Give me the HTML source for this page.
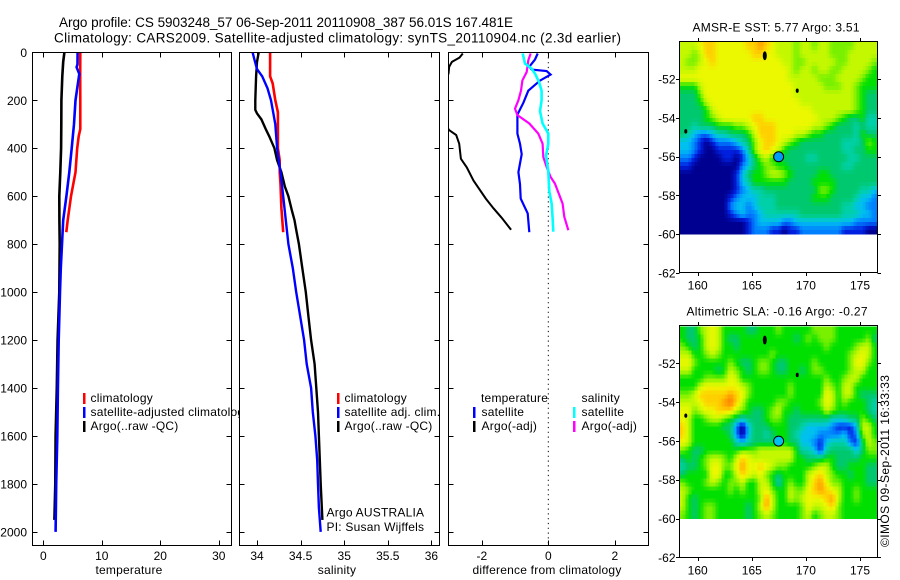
<!DOCTYPE html>
<html>
<head>
<meta charset="utf-8">
<title>Argo profile</title>
<style>
html,body{margin:0;padding:0;background:#fff;}
svg{display:block;}
text{font-family:"Liberation Sans",sans-serif;font-size:12px;fill:#000;}
.wide{letter-spacing:0.22px;}
.frame{fill:none;stroke:#000;stroke-width:1;shape-rendering:crispEdges;}
.panel-bg{fill:#fff;}
</style>
</head>
<body>
<svg id="chart" xmlns="http://www.w3.org/2000/svg" width="900" height="580" viewBox="0 0 900 580">
  <defs>
    <clipPath id="clip-p1"><rect x="32.5" y="52.5" width="199" height="493"/></clipPath>
    <clipPath id="clip-p2"><rect x="239.5" y="52.5" width="200" height="493"/></clipPath>
    <clipPath id="clip-p3"><rect x="448.5" y="52.5" width="200" height="493"/></clipPath>
  </defs>
  <text x="59" y="27" textLength="454" style="font-size:13.5px">Argo profile: CS 5903248_57 06-Sep-2011 20110908_387 56.01S 167.481E</text>
  <text x="54" y="42.5" textLength="567" style="font-size:13.5px">Climatology: CARS2009. Satellite-adjusted climatology: synTS_20110904.nc (2.3d earlier)</text>

  <g id="panel1">
    <rect class="panel-bg" x="32.5" y="52.5" width="199" height="493"/>
    <g id="p1-lines" clip-path="url(#clip-p1)"></g>
    <rect class="frame" x="32.5" y="52.5" width="199" height="493"/>
    <g id="p1-axes"></g>
    <text class="wide" x="129" y="574" text-anchor="middle">temperature</text>
    <g>
      <rect x="83" y="393" width="2.5" height="11" fill="#ff0000"/>
      <rect x="83" y="407" width="2.5" height="11" fill="#0000ff"/>
      <rect x="83" y="421" width="2.5" height="11" fill="#000"/>
      <text class="wide" x="90.5" y="402">climatology</text>
      <text class="wide" x="90.5" y="416">satellite-adjusted climatology</text>
      <text class="wide" x="90.5" y="430">Argo(..raw -QC)</text>
    </g>
  </g>

  <g id="panel2">
    <rect class="panel-bg" x="239.5" y="52.5" width="200" height="493"/>
    <g id="p2-lines" clip-path="url(#clip-p2)"></g>
    <rect class="frame" x="239.5" y="52.5" width="200" height="493"/>
    <g id="p2-axes"></g>
    <text class="wide" x="337" y="574" text-anchor="middle">salinity</text>
    <g>
      <rect x="337" y="393" width="2.5" height="11" fill="#ff0000"/>
      <rect x="337" y="407" width="2.5" height="11" fill="#0000ff"/>
      <rect x="337" y="421" width="2.5" height="11" fill="#000"/>
      <text class="wide" x="344.5" y="402">climatology</text>
      <text class="wide" x="344.5" y="416">satellite adj. clim.</text>
      <text class="wide" x="344.5" y="430">Argo(..raw -QC)</text>
    </g>
    <text class="wide" x="326.5" y="516.5">Argo AUSTRALIA</text>
    <text class="wide" x="326.5" y="531">PI: Susan Wijffels</text>
  </g>

  <g id="panel3">
    <rect class="panel-bg" x="448.5" y="52.5" width="200" height="493"/>
    <g id="p3-lines" clip-path="url(#clip-p3)"></g>
    <rect class="frame" x="448.5" y="52.5" width="200" height="493"/>
    <g id="p3-axes"></g>
    <text class="wide" x="547" y="574" text-anchor="middle">difference from climatology</text>
    <g>
      <text class="wide" x="481" y="402">temperature</text>
      <text class="wide" x="581.5" y="402">salinity</text>
      <rect x="473" y="407" width="2.5" height="11" fill="#0000ff"/>
      <rect x="473" y="421" width="2.5" height="11" fill="#000"/>
      <rect x="573" y="407" width="2.5" height="11" fill="#00ffff"/>
      <rect x="573" y="421" width="2.5" height="11" fill="#ff00ff"/>
      <text class="wide" x="481.5" y="416">satellite</text>
      <text class="wide" x="481.5" y="430">Argo(-adj)</text>
      <text class="wide" x="581.5" y="416">satellite</text>
      <text class="wide" x="581.5" y="430">Argo(-adj)</text>
    </g>
  </g>

  <g id="map1">
    <text x="692.5" y="31.5" textLength="167">AMSR-E SST: 5.77 Argo: 3.51</text>
  </g>
  <g id="map2">
    <text x="686.5" y="315.5" textLength="181">Altimetric SLA: -0.16 Argo: -0.27</text>
  </g>
  <text transform="translate(889,547) rotate(-90)" textLength="172">©IMOS 09-Sep-2011 16:33:33</text>
</svg>

<script>
// ---------- profile axis ticks ----------
const depthTicks = [0,200,400,600,800,1000,1200,1400,1600,1800,2000];
const tempTicks = [0,10,20,30];
const salTicks = [34,34.5,35,35.5,36];
const salTickLabels = ["34","34.5","35","35.5","36"];
const diffTicks = [-2,0,2];
const latTicks = [52,54,56,58,60,62];
const lonTicks = [160,165,170,175];

// ---------- temperature profiles ----------
const tempArgoDepth = [0,40,100,200,300,400,500,600,700,800,1000,1200,1400,1600,1800,1950];
const tempArgoValue = [3.6,3.4,3.25,3.1,3.08,3.05,2.9,2.74,2.75,2.8,2.74,2.45,2.3,2.1,2.05,1.9];
const tempSatDepth = [0,50,62,90,200,300,400,500,600,700,800,900,1000,1200,1400,1600,1800,2000];
const tempSatValue = [5.87,5.85,5.7,6.15,5.5,5.25,4.85,4.45,3.95,3.4,3.2,3.0,2.85,2.63,2.5,2.4,2.2,2.1];
const tempClimDepth = [0,100,200,270,320,350,400,500,600,700,750];
const tempClimValue = [6.33,6.3,6.33,6.33,6.33,6.05,5.8,5.5,4.73,4.17,3.93];

// ---------- salinity profiles ----------
const salArgoDepth = [0,40,100,200,240,255,280,320,350,400,450,500,560,600,660,700,740,800,900,1000,1100,1200,1300,1400,1500,1600,1700,1800,1950];
const salArgoValue = [34.02,34.0,33.99,33.98,33.98,34.0,34.05,34.1,34.14,34.2,34.23,34.28,34.32,34.36,34.4,34.43,34.45,34.48,34.52,34.56,34.59,34.62,34.66,34.68,34.7,34.71,34.72,34.73,34.75];
const salSatDepth = [0,30,70,100,150,200,300,400,500,600,700,800,900,1000,1200,1300,1400,1500,1600,1700,1800,1900,2000];
const salSatValue = [33.95,33.97,34.0,34.06,34.12,34.16,34.21,34.23,34.27,34.3,34.33,34.36,34.41,34.45,34.54,34.57,34.62,34.64,34.67,34.69,34.7,34.71,34.73];
const salClimDepth = [0,100,130,200,250,350,400,450,500,550,650,700,750];
const salClimValue = [34.15,34.15,34.18,34.21,34.24,34.24,34.24,34.26,34.26,34.27,34.28,34.29,34.3];

// ---------- difference profiles ----------
const diffTempSatDepth = [5,30,60,72,78,93,118,160,210,260,339,381,425,500,550,610,672,750];
const diffTempSatValue = [-0.32,-0.4,-0.57,-0.5,-0.05,0.07,-0.25,-0.6,-0.75,-0.93,-0.93,-0.85,-0.8,-0.9,-0.85,-0.83,-0.62,-0.57];
const diffTempArgoDepth = [5,22,40,60,89,117,170,280,325,345,381,444,480,535,610,650,690,740];
const diffTempArgoValue = [-2.57,-2.67,-2.9,-2.98,-3.0,-3.1,-3.3,-3.2,-2.98,-2.77,-2.68,-2.63,-2.45,-2.25,-1.88,-1.65,-1.4,-1.12];
const diffSalSatDepth = [5,47,68,89,124,160,200,245,297,339,381,430,495,580,630,690,748];
const diffSalSatValue = [-0.77,-0.7,-0.5,-0.4,-0.28,-0.2,-0.2,-0.25,-0.17,0,0,-0.07,0,0.03,0.1,0.13,0.15];
const diffSalArgoDepth = [5,33,82,117,160,200,235,262,297,339,381,437,478,520,547,631,686,742];
const diffSalArgoValue = [-0.53,-0.6,-0.65,-0.78,-0.82,-0.9,-1.0,-0.93,-0.57,-0.3,-0.17,-0.15,-0.05,0.07,0.2,0.43,0.48,0.6];

// ---------- SST heatmap (colour level per cell, north to south, west to east) ----------
const sstGrid = [
[8,8,8,9,10,10,9,9,9,9,9,10,10,11,10,9,8,8,8,7,8,8,7,8,8,7,7,7,7,8,8,8,8],
[8,8,7,8,10,10,9,9,9,9,9,9,10,10,9,9,8,8,8,7,8,8,8,8,8,7,7,7,8,8,8,8,8],
[8,7,7,8,9,10,9,9,9,9,9,9,9,9,9,9,9,8,8,7,7,8,8,8,8,8,7,7,8,8,8,8,7],
[8,8,8,9,9,9,9,9,9,9,9,9,9,9,9,9,9,9,8,7,8,8,7,8,8,7,7,8,8,8,8,7,6],
[9,9,9,9,9,9,9,9,9,9,9,9,9,9,9,9,9,9,8,8,8,8,8,7,7,7,8,8,8,8,7,6,6],
[6,6,6,8,9,9,9,9,9,9,9,9,9,9,9,9,9,9,9,8,8,8,8,8,7,7,7,8,8,7,6,6,6],
[5,5,5,7,9,9,9,9,9,9,9,9,9,9,9,9,9,9,9,8,8,8,8,8,8,8,8,8,8,7,6,5,5],
[5,5,5,6,8,9,9,9,9,9,9,9,9,9,9,9,9,9,9,9,8,8,8,8,8,8,8,8,8,7,6,5,5],
[5,5,5,5,6,8,9,9,9,9,9,9,9,9,9,9,9,9,9,9,9,9,8,8,8,8,8,8,8,7,6,5,5],
[5,5,5,5,6,7,8,9,9,9,9,9,10,10,9,9,9,9,9,9,9,9,9,8,8,8,7,6,5,5,6,4,4],
[5,5,4,5,5,5,6,6,6,7,7,8,9,10,10,10,9,9,9,9,9,9,8,8,7,6,5,5,5,4,5,4,4],
[5,4,3,2,2,3,4,4,5,5,5,6,8,10,10,10,9,9,9,8,8,7,6,6,5,5,5,5,5,4,6,5,5],
[3,3,2,1,0,1,2,2,2,3,4,5,7,9,10,10,9,8,7,6,5,5,5,5,5,5,5,4,4,4,5,7,6],
[3,3,2,1,0,0,1,1,1,1,2,4,7,9,10,9,8,6,5,5,5,5,5,5,5,5,5,4,4,5,5,6,6],
[2,2,1,0,0,0,0,1,1,0,1,3,5,7,8,6,6,5,5,5,5,4,4,5,5,5,5,5,4,4,5,5,5],
[1,1,0,0,0,0,0,0,0,0,2,3,5,6,7,7,6,6,5,5,5,5,5,5,5,5,5,4,4,5,5,5,5],
[0,0,0,0,0,0,0,0,0,1,3,5,6,6,7,8,8,7,6,5,5,5,5,6,6,5,5,5,5,5,5,5,5],
[0,0,0,0,0,0,0,0,0,1,3,4,6,6,6,6,6,6,5,5,5,5,6,6,6,6,5,5,5,5,5,5,5],
[0,0,0,0,0,0,0,0,0,1,2,3,4,4,5,5,5,5,5,5,5,5,5,7,7,6,5,5,5,5,4,4,3],
[0,0,0,0,0,0,0,0,1,2,3,3,3,4,4,4,5,5,5,5,5,5,6,6,6,5,5,5,5,4,3,3,2],
[0,0,0,0,0,0,0,0,2,3,3,2,3,4,4,4,5,5,5,5,5,5,5,5,5,5,5,4,4,3,3,2,2],
[0,0,0,0,0,0,0,0,1,2,3,2,2,3,4,4,4,4,4,4,5,5,5,5,5,5,5,4,4,4,3,3,2],
[0,0,0,0,0,0,0,0,0,0,0,1,2,3,3,3,3,2,2,3,3,3,3,3,3,3,3,3,3,2,2,2,2],
[0,0,0,0,0,0,0,0,0,0,0,1,2,2,2,1,1,0,1,1,2,2,2,2,2,2,2,1,1,1,1,0,0]
];

// ---------- SLA heatmap ----------
const slaGrid = [
[6,5,5,7,8,9,8,6,6,6,6,5,5,6,6,6,7,6,6,6,6,6,7,7,7,7,6,6,6,6,6,6,6],
[6,5,5,6,8,9,8,6,5,5,6,6,6,6,6,6,6,6,6,5,6,7,6,7,7,7,6,6,6,6,6,7,5],
[7,6,5,6,8,9,8,6,6,5,6,6,6,6,6,6,6,6,6,6,6,6,6,6,7,6,6,6,6,7,8,8,6],
[8,8,6,6,7,8,7,6,6,6,6,6,6,6,6,7,6,6,6,6,6,6,6,6,6,6,6,6,7,8,9,8,6],
[9,9,7,6,6,6,6,6,7,6,5,5,6,7,7,6,5,5,6,6,6,6,7,6,6,6,6,6,7,9,9,7,6],
[8,8,6,6,6,6,5,6,8,7,6,5,6,7,7,6,5,5,6,6,5,6,7,7,6,6,6,6,7,8,8,6,6],
[6,6,6,6,7,7,7,7,9,8,6,6,6,6,6,6,6,6,6,6,6,6,6,6,7,6,6,7,8,8,6,6,6],
[6,6,6,8,9,9,9,9,9,9,8,7,6,6,6,6,6,6,7,6,6,6,6,6,8,7,6,8,8,6,6,6,6],
[7,7,8,10,10,10,10,10,11,10,9,7,6,6,6,6,6,6,7,6,6,6,6,6,9,8,6,8,8,6,5,5,5],
[8,8,8,9,10,10,10,11,12,10,8,6,6,6,6,6,7,7,6,6,6,6,6,7,9,8,6,7,6,6,6,5,4],
[9,9,7,8,9,9,10,10,10,8,7,6,5,5,6,7,8,6,6,5,6,6,6,6,8,7,6,6,6,6,6,5,4],
[9,8,6,6,7,8,8,7,6,5,4,5,5,5,6,7,7,6,5,5,5,5,5,5,5,4,4,4,5,5,7,6,5],
[10,8,6,6,6,6,6,5,5,2,0,3,5,5,5,6,6,6,5,5,4,3,3,3,3,2,1,1,1,3,8,8,6],
[10,8,6,6,6,6,6,6,5,2,0,3,5,5,4,5,6,6,5,4,3,3,3,2,2,2,2,3,1,2,7,8,6],
[9,8,6,6,6,6,6,6,6,4,3,4,5,5,5,5,6,6,5,5,3,3,2,1,3,4,4,4,2,1,5,8,7],
[7,6,5,5,6,6,6,6,6,6,7,7,7,8,8,8,8,8,8,6,4,4,3,1,4,5,5,5,5,3,5,7,7],
[5,6,5,6,7,8,8,7,6,8,10,9,8,8,8,8,8,8,8,6,6,5,5,5,6,6,5,5,5,5,6,6,6],
[4,5,5,6,7,9,9,7,7,9,11,9,9,10,9,8,7,7,6,6,6,6,7,8,8,6,5,5,6,6,6,5,5],
[5,6,6,6,6,9,9,6,6,8,10,9,8,9,7,6,5,6,6,6,6,8,9,10,8,7,6,6,5,6,6,5,5],
[7,6,6,6,7,8,7,6,7,7,8,6,6,8,8,6,4,6,7,6,6,8,10,11,9,7,7,6,6,6,6,5,5],
[8,7,6,6,6,6,6,6,7,6,7,6,6,8,9,7,6,6,8,7,7,9,10,11,10,9,8,6,6,7,6,6,6],
[8,6,5,6,6,6,6,6,6,6,6,6,6,7,11,8,6,6,8,7,8,9,9,9,10,11,8,6,6,7,6,6,6],
[8,6,5,6,7,7,6,6,6,6,6,5,6,8,11,8,6,6,6,6,7,9,8,8,9,10,7,6,6,6,6,6,6],
[7,6,5,6,7,7,6,6,6,6,6,5,6,7,8,7,6,6,6,6,7,8,6,7,8,8,7,6,6,6,6,6,6]
];

const floatLon = 167.48;
const floatLat = 56.01;
const sstFloatLevel = 2.4;
const slaFloatLevel = 3;
const islandLons = [166.2, 169.2, 158.9];
const islandLats = [50.8, 52.6, 54.7];

// ---------- axis functions ----------
const NS = "http://www.w3.org/2000/svg";
function yDepth(d){ return 52.3 + d * 0.2398; }
function xTemp(v){ return 43.3 + v * 5.85; }
function xSal(v){ return 257 + (v - 34) * 87.2; }
function xDiff(v){ return 548.3 + v * 33.25; }
function xLon(v){ return 697.7 + (v - 160) * 10.82; }
function yLat(v, y52){ return y52 + (v - 52) * 19.4; }

function mk(tag, parent, attrs){
  const el = document.createElementNS(NS, tag);
  for (const k in attrs) el.setAttribute(k, attrs[k]);
  parent.appendChild(el);
  return el;
}

function drawProfile(parentId, depths, values, xFn, color, width, name){
  const pts = depths.map(function(d, i){ return xFn(values[i]).toFixed(1) + "," + yDepth(d).toFixed(1); }).join(" ");
  const el = mk("polyline", document.getElementById(parentId), {points: pts, fill: "none", stroke: color, "stroke-width": width, "stroke-linejoin": "miter"});
  
  
}

function tick(parent, x1, y1, x2, y2){
  const el = mk("line", parent, {x1: x1, y1: y1, x2: x2, y2: y2, stroke: "#000", "stroke-width": 1, "shape-rendering": "crispEdges"});
  
  
}

function label(parent, x, y, str, anchor){
  const el = mk("text", parent, {x: x, y: y, "text-anchor": anchor});
  el.textContent = str;
  
  
}

function drawPanelAxes(id, left, right, xFn, xValues, xLabels, showDepth){
  const g = document.getElementById(id);
  depthTicks.forEach(function(d){
    const y = Math.round(yDepth(d)) + 0.5;
    tick(g, left, y, left + 5, y);
    tick(g, right - 5, y, right, y);
    if (showDepth) label(g, 27, yDepth(d) + 4.5, String(d), "end");
  });
  xValues.forEach(function(v, i){
    const x = Math.round(xFn(v)) + 0.5;
    tick(g, x, 52.5, x, 57.5);
    tick(g, x, 540.5, x, 545.5);
    label(g, xFn(v), 560, xLabels[i], "middle");
  });
}

// ---------- draw profile panels ----------
drawPanelAxes("p1-axes", 32.5, 231.5, xTemp, tempTicks, tempTicks.map(String), true);
drawPanelAxes("p2-axes", 239.5, 439.5, xSal, salTicks, salTickLabels, false);
drawPanelAxes("p3-axes", 448.5, 648.5, xDiff, diffTicks, diffTicks.map(String), false);

drawProfile("p1-lines", tempClimDepth, tempClimValue, xTemp, "#ff0000", 2.6, "temperature-climatology-line");
drawProfile("p1-lines", tempArgoDepth, tempArgoValue, xTemp, "#000000", 2.6, "temperature-argo-line");
drawProfile("p1-lines", tempSatDepth, tempSatValue, xTemp, "#0000ff", 2.6, "temperature-satellite-line");

drawProfile("p2-lines", salClimDepth, salClimValue, xSal, "#ff0000", 2.6, "salinity-climatology-line");
drawProfile("p2-lines", salArgoDepth, salArgoValue, xSal, "#000000", 2.4, "salinity-argo-line");
drawProfile("p2-lines", salSatDepth, salSatValue, xSal, "#0000ff", 2.4, "salinity-satellite-line");

(function(){
  const g = document.getElementById("p3-lines");
  const zero = mk("line", g, {x1: xDiff(0), y1: 52.5, x2: xDiff(0), y2: 545.5, stroke: "#000", "stroke-width": 1, "stroke-dasharray": "1.2 3.6"});
  
  
})();
drawProfile("p3-lines", diffTempArgoDepth, diffTempArgoValue, xDiff, "#000000", 2, "difference-temperature-argo-line");
drawProfile("p3-lines", diffTempSatDepth, diffTempSatValue, xDiff, "#0000ff", 2.2, "difference-temperature-satellite-line");
drawProfile("p3-lines", diffSalArgoDepth, diffSalArgoValue, xDiff, "#ff00ff", 2.2, "difference-salinity-argo-line");
drawProfile("p3-lines", diffSalSatDepth, diffSalSatValue, xDiff, "#00ffff", 2.6, "difference-salinity-satellite-line");

// ---------- colour scale (continuous between levels) ----------
const levelColors = [[0,0,144],[0,32,224],[0,128,255],[0,192,240],[0,208,168],[0,200,110],[0,224,0],[120,240,0],[196,248,0],[236,248,0],[255,208,0],[255,160,0],[255,120,0]];
function colorFor(v){
  const t = Math.max(0, Math.min(levelColors.length - 1, v));
  const i = Math.min(levelColors.length - 2, Math.floor(t));
  const f = t - i;
  const a = levelColors[i], b = levelColors[i + 1];
  return "rgb(" + [0,1,2].map(function(k){ return Math.round(a[k] + (b[k] - a[k]) * f); }).join(",") + ")";
}

// Bilinear lookup of a level at fractional grid coordinates
function sampleGrid(grid, u, w){
  const rows = grid.length, cols = grid[0].length;
  const cu = Math.max(0, Math.min(cols - 1, u));
  const cw = Math.max(0, Math.min(rows - 1, w));
  const c0 = Math.min(cols - 2, Math.floor(cu));
  const r0 = Math.min(rows - 2, Math.floor(cw));
  const fu = cu - c0, fw = cw - r0;
  const top = grid[r0][c0] * (1 - fu) + grid[r0][c0 + 1] * fu;
  const bot = grid[r0 + 1][c0] * (1 - fu) + grid[r0 + 1][c0 + 1] * fu;
  return top * (1 - fw) + bot * fw;
}

// ---------- draw maps ----------
function drawMap(gId, grid, y52, top, bottom, floatLevel, mapName){
  const g = document.getElementById(gId);
  const left = 679.5, right = 877.5;
  const rows = grid.length, cols = grid[0].length;
  const lonW = 158.3, lonE = 176.6, latN = 50.1, latS = 60;
  const sub = 2;
  const heat = mk("g", g, {"shape-rendering": "crispEdges"});
  
  
  for (let r = 0; r < rows * sub; r++) {
    for (let c = 0; c < cols * sub; c++) {
      const x0 = xLon(lonW + (lonE - lonW) * c / (cols * sub));
      const x1 = xLon(lonW + (lonE - lonW) * (c + 1) / (cols * sub));
      const y0 = yLat(latN + (latS - latN) * r / (rows * sub), y52);
      const y1 = yLat(latN + (latS - latN) * (r + 1) / (rows * sub), y52);
      const level = sampleGrid(grid, (c + 0.5) / sub - 0.5, (r + 0.5) / sub - 0.5);
      const cell = mk("rect", heat, {x: x0.toFixed(1), y: y0.toFixed(1), width: (x1 - x0 + 0.5).toFixed(1), height: (y1 - y0 + 0.5).toFixed(1), fill: colorFor(level)});
      
      
    }
  }
  islandLons.forEach(function(lon, i){
    const isl = mk("ellipse", g, {cx: xLon(lon), cy: yLat(islandLats[i], y52), rx: i === 0 ? 2 : 1.5, ry: i === 0 ? 4.5 : 2.2, fill: "#000"});
    
    
  });
  const dot = mk("circle", g, {cx: xLon(floatLon), cy: yLat(floatLat, y52), r: 5, fill: colorFor(floatLevel), stroke: "#000", "stroke-width": 1});
  
  
  const fr = mk("rect", g, {x: left, y: top, width: right - left, height: bottom - top, "class": "frame"});
  
  
  latTicks.forEach(function(lat){
    const y = Math.round(yLat(lat, y52)) + 0.5;
    tick(g, left - 3.5, y, left, y);
    tick(g, right, y, right + 3.5, y);
    label(g, 675.5, yLat(lat, y52) + 4.5, "-" + lat, "end");
  });
  lonTicks.forEach(function(lon){
    const x = Math.round(xLon(lon)) + 0.5;
    tick(g, x, top - 3.5, x, top);
    tick(g, x, bottom, x, bottom + 3.5);
    label(g, xLon(lon), bottom + 17, String(lon), "middle");
  });
}
drawMap("map1", sstGrid, 79, 41.5, 272.5, sstFloatLevel, "sst-map");
drawMap("map2", slaGrid, 363.3, 325.5, 557.5, slaFloatLevel, "sla-map");
</script>
</body>
</html>
